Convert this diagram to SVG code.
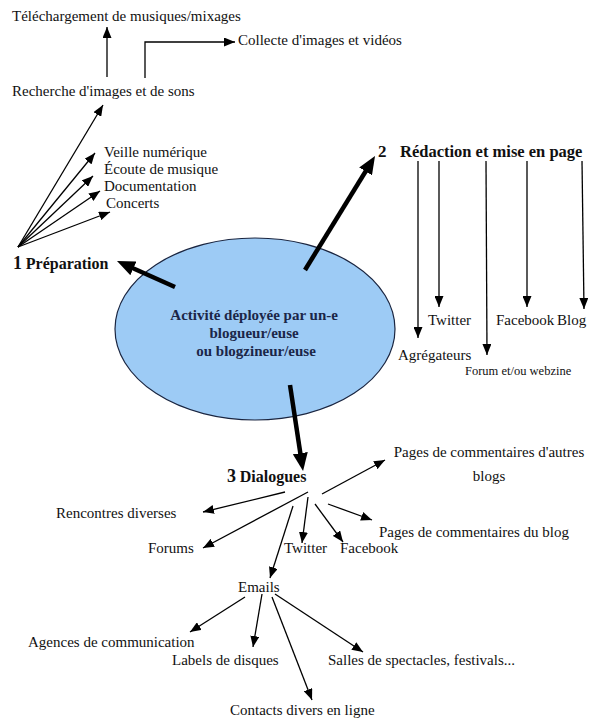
<svg xmlns="http://www.w3.org/2000/svg" width="589" height="719" viewBox="0 0 589 719">
<defs>
<style>
.t{font-family:"Liberation Serif","Times New Roman",serif;font-size:15px;fill:#111}
.b{font-weight:bold}
.thin{stroke:#000;stroke-width:1.3;fill:none;marker-end:url(#ah)}
.thick{stroke:#000;stroke-width:4.5;fill:none;marker-end:url(#ahb)}
</style>
<marker id="ah" markerUnits="userSpaceOnUse" markerWidth="11" markerHeight="9" refX="11" refY="4.5" orient="auto"><path d="M0,0 L11,4.5 L0,9 z" fill="#000"/></marker>
<marker id="ahb" markerUnits="userSpaceOnUse" markerWidth="18" markerHeight="15" refX="9" refY="7.5" orient="auto"><path d="M0,0 L18,7.5 L0,15 z" fill="#000"/></marker>
</defs>
<rect width="589" height="719" fill="#fff"/>

<g id="center">
<ellipse cx="255" cy="329" rx="140" ry="91" fill="#9dcbf5" stroke="#1a2540" stroke-width="1.2"/>
<text class="t b" text-anchor="middle" style="fill:#1b2648">
<tspan x="256" y="320">Activité déployée par un-e</tspan>
<tspan x="256" y="338">blogueur/euse</tspan>
<tspan x="256" y="356">ou blogzineur/euse</tspan>
</text>
</g>

<g id="preparation"><text class="t b" x="13" y="269"><tspan style="font-size:18px">1</tspan> <tspan style="font-size:16px">Préparation</tspan></text></g>
<g id="recherche"><text class="t" x="12" y="96">Recherche d'images et de sons</text></g>
<g id="telechargement"><text class="t" x="12" y="21">Téléchargement de musiques/mixages</text></g>
<g id="collecte"><text class="t" x="238" y="45">Collecte d'images et vidéos</text></g>
<g id="veille"><text class="t" x="104" y="157">Veille numérique</text></g>
<g id="ecoute"><text class="t" x="104" y="174">Écoute de musique</text></g>
<g id="documentation"><text class="t" x="104" y="191">Documentation</text></g>
<g id="concerts"><text class="t" x="106" y="208">Concerts</text></g>

<g id="redaction"><text class="t b" x="378" y="157"><tspan style="font-size:17px">2</tspan><tspan x="400" style="font-size:16.5px">Rédaction et mise en page</tspan></text></g>
<g id="agregateurs"><text class="t" x="398" y="360">Agrégateurs</text></g>
<g id="twitter2"><text class="t" x="428" y="325">Twitter</text></g>
<g id="forum"><text class="t" x="465" y="375" style="font-size:12.5px">Forum et/ou webzine</text></g>
<g id="facebook2"><text class="t" x="496" y="325">Facebook</text></g>
<g id="blog"><text class="t" x="557" y="325">Blog</text></g>

<g id="dialogues"><text class="t b" x="227" y="482"><tspan style="font-size:18px">3</tspan> <tspan style="font-size:16px">Dialogues</tspan></text></g>
<g id="pages-autres"><text class="t" text-anchor="middle"><tspan x="489" y="457">Pages de commentaires d'autres</tspan><tspan x="489" y="481">blogs</tspan></text></g>
<g id="rencontres"><text class="t" x="56" y="518">Rencontres diverses</text></g>
<g id="pages-blog"><text class="t" x="379" y="537">Pages de commentaires du blog</text></g>
<g id="forums"><text class="t" x="148" y="553">Forums</text></g>
<g id="twitter3"><text class="t" x="284" y="553">Twitter</text></g>
<g id="facebook3"><text class="t" x="340" y="553">Facebook</text></g>
<g id="emails"><text class="t" x="238" y="592">Emails</text></g>
<g id="agences"><text class="t" x="28" y="647">Agences de communication</text></g>
<g id="labels"><text class="t" x="172" y="665">Labels de disques</text></g>
<g id="salles"><text class="t" x="328" y="665">Salles de spectacles, festivals...</text></g>
<g id="contacts"><text class="t" x="230" y="715">Contacts divers en ligne</text></g>

<g id="connectors">
<line class="thick" x1="175" y1="287" x2="125.2" y2="264.7"/>
<line class="thick" x1="305" y1="270" x2="370.3" y2="163.7"/>
<line class="thick" x1="290" y1="385" x2="301.7" y2="462.1"/>

<line class="thin" x1="18" y1="247" x2="103" y2="105"/>
<line class="thin" x1="18" y1="247" x2="95" y2="153"/>
<line class="thin" x1="18" y1="247" x2="93" y2="176"/>
<line class="thin" x1="18" y1="247" x2="100" y2="191"/>
<line class="thin" x1="18" y1="247" x2="110" y2="212"/>
<line class="thin" x1="107" y1="77" x2="107" y2="27"/>
<polyline class="thin" points="145,78 145,42 235,42"/>

<line class="thin" x1="418" y1="161" x2="418" y2="338"/>
<line class="thin" x1="439" y1="161" x2="439" y2="307"/>
<line class="thin" x1="486" y1="161" x2="487" y2="355"/>
<line class="thin" x1="527" y1="161" x2="527" y2="307"/>
<line class="thin" x1="582" y1="161" x2="584" y2="309"/>

<line class="thin" x1="285" y1="492" x2="203" y2="512"/>
<line class="thin" x1="308" y1="492" x2="203" y2="548"/>
<line class="thin" x1="293" y1="506" x2="270" y2="578"/>
<line class="thin" x1="308" y1="497" x2="302" y2="543"/>
<line class="thin" x1="315" y1="504" x2="343" y2="542"/>
<line class="thin" x1="328" y1="504" x2="372" y2="520"/>
<line class="thin" x1="322" y1="494" x2="385" y2="460"/>

<line class="thin" x1="245" y1="597" x2="190" y2="632"/>
<line class="thin" x1="262" y1="594" x2="253" y2="647"/>
<line class="thin" x1="272" y1="597" x2="312" y2="700"/>
<line class="thin" x1="275" y1="594" x2="363" y2="652"/>
</g>
</svg>
